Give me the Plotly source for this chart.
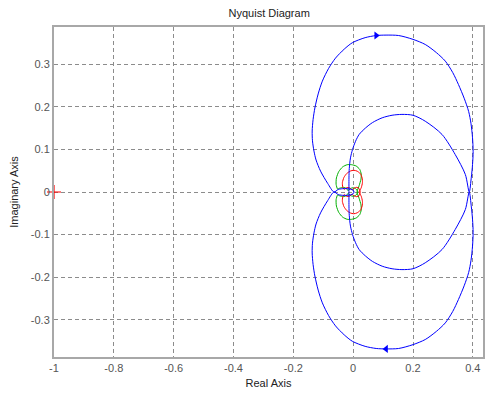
import plotly.graph_objects as go

# ---- data (upper half-plane; lower half is the complex conjugate) ----
blue_small_upper_x = [0.003, 0.0, -0.01, -0.03, -0.05, -0.064]
blue_small_upper_y = [0.0, 0.004, 0.007, 0.008, 0.006, 0.0]

blue_outer_upper_x = [-0.064, -0.085, -0.109, -0.124, -0.131, -0.136, -0.137, -0.134, -0.128, -0.117,
                      -0.103, -0.082, -0.059, -0.03, -0.003, 0.04, 0.077, 0.11, 0.152, 0.2,
                      0.241, 0.278, 0.308, 0.333, 0.352, 0.371, 0.386, 0.394, 0.399, 0.401,
                      0.399, 0.395, 0.388]
blue_outer_upper_y = [0.0, 0.02, 0.049, 0.075, 0.096, 0.12, 0.143, 0.17, 0.197, 0.23,
                      0.26, 0.29, 0.314, 0.335, 0.35, 0.362, 0.367, 0.368, 0.367, 0.358,
                      0.346, 0.327, 0.307, 0.28, 0.252, 0.22, 0.189, 0.16, 0.127, 0.095,
                      0.064, 0.035, 0.0]

blue_inner_upper_x = [0.388, 0.375, 0.341, 0.297, 0.241, 0.2, 0.163, 0.13, 0.097, 0.065,
                      0.041, 0.02, 0.008, -0.002, -0.009, -0.013, -0.014, -0.014]
blue_inner_upper_y = [0.0, 0.041, 0.088, 0.135, 0.166, 0.18, 0.182, 0.18, 0.174, 0.163,
                      0.15, 0.135, 0.119, 0.1, 0.08, 0.055, 0.033, 0.0]

green_upper_x = [0.013, 0.02, 0.026, 0.027, 0.022, 0.01, -0.005, -0.02, -0.035, -0.048,
                 -0.056, -0.057, -0.052, -0.045, -0.033, -0.022, -0.017, -0.01, 0.0, 0.01, 0.016]
green_upper_y = [0.0, 0.015, 0.03, 0.042, 0.053, 0.061, 0.064, 0.064, 0.059, 0.048,
                 0.033, 0.018, 0.007, 0.009, 0.011, 0.008, 0.003, 0.008, 0.01, 0.007, 0.0]

red_upper_x = [0.02, 0.027, 0.031, 0.03, 0.024, 0.013, 0.002, -0.01, -0.022, -0.031,
               -0.036, -0.035, -0.03, -0.022, -0.012, -0.004, 0.003, 0.012, 0.02, 0.024]
red_upper_y = [0.0, 0.01, 0.022, 0.033, 0.043, 0.049, 0.051, 0.049, 0.043, 0.034,
               0.022, 0.012, 0.006, 0.01, 0.01, 0.005, 0.009, 0.011, 0.008, 0.0]

critical_x = [-1]
critical_y = [0]

x_ticks = [-1, -0.8, -0.6, -0.4, -0.2, 0, 0.2, 0.4]
x_tick_labels = ["-1", "-0.8", "-0.6", "-0.4", "-0.2", "0", "0.2", "0.4"]
y_ticks = [-0.3, -0.2, -0.1, 0, 0.1, 0.2, 0.3]
y_tick_labels = ["-0.3", "-0.2", "-0.1", "0", "0.1", "0.2", "0.3"]

arrow_index = 16        # arrow on the upper outer loop (points right)
arrow_index_low = 17    # arrow on the lower outer loop (points left)


def full_path(ux, uy):
    """Upper half followed by its mirror image (negative frequencies)."""
    xs = list(ux) + list(reversed(ux))
    ys = list(uy) + [-v for v in reversed(uy)]
    return xs, ys


blue_ux = blue_small_upper_x + blue_outer_upper_x[1:] + blue_inner_upper_x[1:]
blue_uy = blue_small_upper_y + blue_outer_upper_y[1:] + blue_inner_upper_y[1:]
bx, by = full_path(blue_ux, blue_uy)
gx, gy = full_path(green_upper_x, green_upper_y)
rx, ry = full_path(red_upper_x, red_upper_y)

fig = go.Figure()
fig.add_trace(go.Scatter(x=gx, y=gy, mode="lines", line=dict(color="#00b000", width=1, shape="spline", smoothing=0.6),
                         hoverinfo="skip"))
fig.add_trace(go.Scatter(x=rx, y=ry, mode="lines", line=dict(color="#ff0000", width=1, shape="spline", smoothing=0.6),
                         hoverinfo="skip"))
fig.add_trace(go.Scatter(x=bx, y=by, mode="lines", line=dict(color="#0000ff", width=1, shape="spline", smoothing=0.8),
                         hoverinfo="skip"))

# direction arrows
fig.add_trace(go.Scatter(x=[blue_outer_upper_x[arrow_index]], y=[blue_outer_upper_y[arrow_index]],
                         mode="markers", marker=dict(symbol="triangle-right", size=7, color="#0000ff"),
                         hoverinfo="skip"))
fig.add_trace(go.Scatter(x=[blue_outer_upper_x[arrow_index_low]], y=[-blue_outer_upper_y[arrow_index_low]],
                         mode="markers", marker=dict(symbol="triangle-left", size=7, color="#0000ff"),
                         hoverinfo="skip"))
# critical point
fig.add_trace(go.Scatter(x=critical_x, y=critical_y, mode="markers",
                         marker=dict(symbol="cross-thin", size=10, line=dict(color="#ff0000", width=1.2)),
                         cliponaxis=False, hoverinfo="skip"))

font = "Liberation Sans, Arial, sans-serif"
axis_common = dict(
    showgrid=True, gridcolor="#8c8c8c", griddash="4px,3px", gridwidth=1,
    zeroline=False, showline=True, linecolor="#a8a8a8", linewidth=2, mirror=True,
    ticks="", tickfont=dict(family=font, size=11, color="#555555"),
)

fig.update_layout(
    width=485, height=397,
    margin=dict(l=54, r=0, t=27, b=40),
    paper_bgcolor="white", plot_bgcolor="white",
    showlegend=False,
    title=dict(text="Nyquist Diagram", x=0.555, xanchor="center", y=0.966, yanchor="middle",
               font=dict(family=font, size=11, color="#222222")),
    xaxis=dict(range=[-1, 0.434], tickvals=x_ticks, ticktext=x_tick_labels,
               title=dict(text="Real Axis", font=dict(family=font, size=11, color="#222222"), standoff=6),
               **axis_common),
    yaxis=dict(range=[-0.387, 0.387], tickvals=y_ticks, ticktext=y_tick_labels,
               title=dict(text="Imaginary Axis", font=dict(family=font, size=11, color="#222222"), standoff=10),
               **axis_common),
)

fig.write_html("out.html")
